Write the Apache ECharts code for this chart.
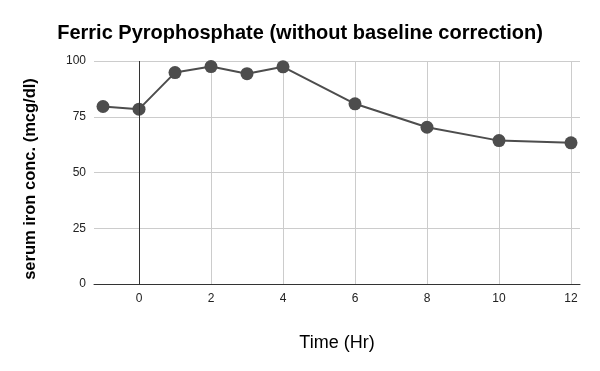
<!DOCTYPE html>
<html><head><meta charset="utf-8">
<script src="https://cdn.jsdelivr.net/npm/echarts@6/dist/echarts.min.js"></script>
<style>html,body{margin:0;padding:0;background:#fff}#c{width:600px;height:371px}</style>
</head><body><div id="c"></div>
<script>
const times = [-1, 0, 1, 2, 3, 4, 6, 8, 10, 12];
const ironConc = [79.6, 78.4, 94.8, 97.5, 94.3, 97.4, 80.8, 70.3, 64.3, 63.3];
const xTicks = [0, 2, 4, 6, 8, 10, 12];
const yTicks = [0, 25, 50, 75, 100];

const chart = echarts.init(document.getElementById('c'), null, {renderer: 'canvas'});
const font = 'Liberation Sans, Arial, sans-serif';
chart.setOption({
  animation: false,
  title: {
    text: 'Ferric Pyrophosphate (without baseline correction)',
    left: 'center', top: 18,
    textStyle: {fontFamily: font, fontSize: 20, fontWeight: 'bold', color: '#000'}
  },
  graphic: [{
    type: 'text', x: 30, y: 179, rotation: Math.PI / 2,
    style: {
      text: 'serum iron conc. (mcg/dl)', fontFamily: font, fontSize: 16.5,
      fontWeight: 'bold', fill: '#000', align: 'center', verticalAlign: 'middle'
    }
  }],
  grid: {left: 94, right: 20, top: 61, bottom: 87, containLabel: false},
  xAxis: {
    type: 'value', min: -1.25, max: 12.25,
    name: 'Time (Hr)', nameLocation: 'middle', nameGap: 50,
    nameTextStyle: {fontFamily: font, fontSize: 18, color: '#000'},
    axisLine: {show: true, onZero: false, lineStyle: {color: '#333', width: 1}},
    axisTick: {show: false, customValues: xTicks},
    axisLabel: {
      fontFamily: font, fontSize: 12, color: '#222', margin: 9,
      customValues: xTicks
    },
    splitLine: {show: true, lineStyle: {color: '#ccc', width: 1}}
  },
  yAxis: {
    type: 'value', min: 0, max: 100, interval: 25,
    axisLine: {show: false},
    axisTick: {show: false},
    axisLabel: {fontFamily: font, fontSize: 12, color: '#222', margin: 8,
      formatter: v => yTicks.includes(v) ? String(v) : ''},
    splitLine: {show: true, lineStyle: {color: '#ccc', width: 1}}
  },
  series: [{
    type: 'line',
    data: times.map((t, i) => [t, ironConc[i]]),
    symbol: 'circle', symbolSize: 13,
    lineStyle: {color: '#4d4d4d', width: 2},
    itemStyle: {color: '#4d4d4d'},
    markLine: {
      silent: true, symbol: 'none', label: {show: false},
      lineStyle: {color: '#333', width: 1, type: 'solid'},
      data: [{xAxis: 0}]
    },
    z: 3
  }]
});
</script></body></html>
